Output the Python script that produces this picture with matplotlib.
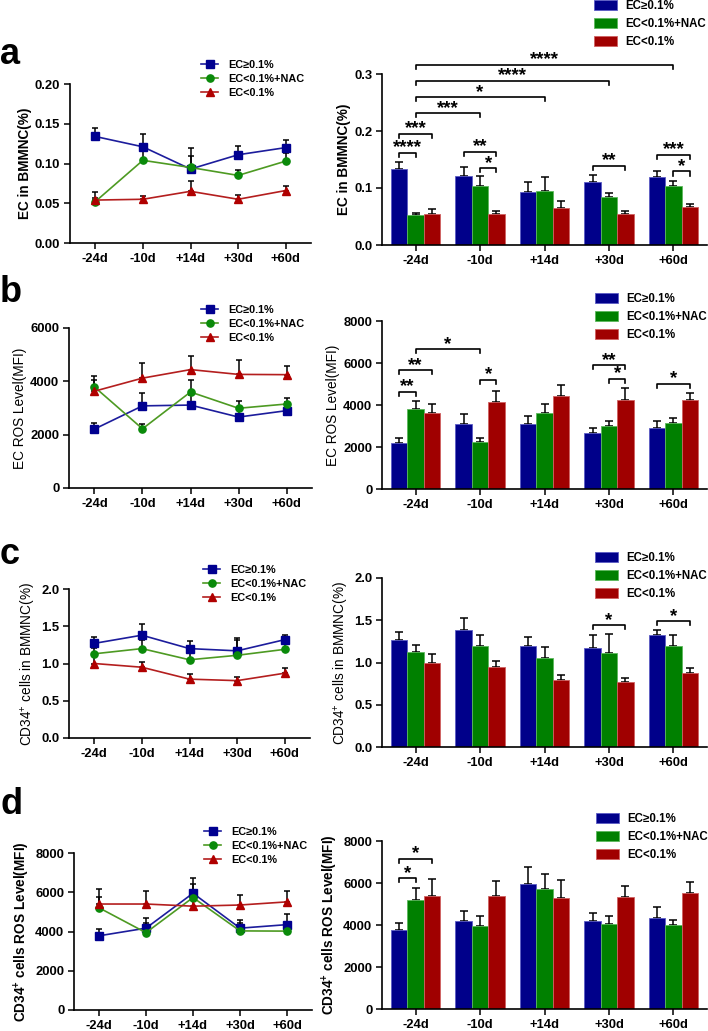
import numpy as np
import matplotlib
matplotlib.use('Agg')
import matplotlib.pyplot as plt

plt.rcParams['font.family'] = ['Liberation Sans', 'DejaVu Sans']
plt.rcParams['mathtext.fontset'] = 'custom'
plt.rcParams['mathtext.rm'] = 'Liberation Sans'
plt.rcParams['mathtext.bf'] = 'Liberation Sans:bold'
plt.rcParams['mathtext.default'] = 'regular'


days = ['-24d', '-10d', '+14d', '+30d', '+60d']
groups = ['EC≥0.1%', 'EC<0.1%+NAC', 'EC<0.1%']

# panel a: EC in BMMNC (%)
a_hi = [0.134, 0.121, 0.093, 0.111, 0.120]
a_hi_err = [0.011, 0.016, 0.017, 0.011, 0.010]
a_nac = [0.052, 0.104, 0.095, 0.085, 0.103]
a_nac_err = [0.005, 0.017, 0.024, 0.007, 0.010]
a_lo = [0.054, 0.055, 0.065, 0.055, 0.066]
a_lo_err = [0.010, 0.004, 0.013, 0.005, 0.006]

# panel b: EC ROS level (MFI)
b_hi = [2210, 3080, 3110, 2660, 2900]
b_hi_err = [230, 470, 370, 260, 340]
b_nac = [3790, 2220, 3600, 2990, 3150]
b_nac_err = [410, 190, 460, 260, 240]
b_lo = [3630, 4120, 4440, 4260, 4250]
b_lo_err = [430, 570, 510, 540, 320]

# panel c: CD34+ cells in BMMNC (%)
c_hi = [1.27, 1.38, 1.20, 1.17, 1.32]
c_hi_err = [0.09, 0.15, 0.10, 0.15, 0.065]
c_nac = [1.13, 1.20, 1.05, 1.11, 1.19]
c_nac_err = [0.075, 0.12, 0.13, 0.23, 0.13]
c_lo = [1.00, 0.95, 0.79, 0.77, 0.87]
c_lo_err = [0.10, 0.065, 0.067, 0.05, 0.07]

# panel d: CD34+ cells ROS level (MFI)
d_hi = [3780, 4170, 5950, 4170, 4350]
d_hi_err = [330, 520, 800, 410, 530]
d_nac = [5210, 3940, 5730, 4030, 4020]
d_nac_err = [570, 500, 710, 380, 220]
d_lo = [5400, 5400, 5290, 5350, 5510]
d_lo_err = [790, 680, 840, 490, 550]

# significance: (group1, series1, group2, series2, height, stars); series None = group centre
a_sig = [(0, None, 4, None, 0.316, '****'), (0, None, 3, None, 0.288, '****'),
         (0, None, 2, None, 0.259, '*'), (0, None, 1, None, 0.231, '***'),
         (0, 0, 0, 2, 0.195, '***'), (0, 0, 0, 1, 0.161, '****'),
         (1, 0, 1, 2, 0.164, '**'), (1, 1, 1, 2, 0.1345, '*'),
         (3, 0, 3, 2, 0.139, '**'),
         (4, 0, 4, 2, 0.158, '***'), (4, 1, 4, 2, 0.129, '*')]
b_sig = [(0, None, 1, None, 6650, '*'), (0, 0, 0, 2, 5650, '**'), (0, 0, 0, 1, 4630, '**'),
         (1, 1, 1, 2, 5180, '*'), (3, 0, 3, 2, 5890, '**'), (3, 1, 3, 2, 5260, '*'),
         (4, 0, 4, 2, 4990, '*')]
c_sig = [(3, 0, 3, 2, 1.44, '*'), (4, 0, 4, 2, 1.487, '*')]
d_sig = [(0, 0, 0, 2, 7130, '*'), (0, 0, 0, 1, 6220, '*')]


W, H = 708, 1031
bar_cols = ['#00008a', '#008000', '#a00000']
edge_cols = ['#5c5cc4', '#5cb85c', '#d06060']
line_cols = ['#1c1c9c', '#4d9a22', '#b41e1e']
mk_cols = ['#000090', '#0a8a0a', '#b00000']
markers = ['s', 'o', '^']
BW = 0.255


def pos(l, r, t, b):
    return [l / W, 1 - b / H, (r - l) / W, (b - t) / H]


def style(ax, ymax, step, ylabel, lab_bold):
    for s in ['top', 'right']:
        ax.spines[s].set_visible(False)
    for s in ['left', 'bottom']:
        ax.spines[s].set_linewidth(1.2)
    ax.set_ylim(0, ymax)
    ax.set_yticks(np.arange(0, ymax + step / 2, step))
    ax.set_xticks(range(5))
    ax.set_xticklabels(days)
    ax.tick_params(width=1.1, length=4, pad=3, labelsize=9.4)
    for t in ax.get_xticklabels() + ax.get_yticklabels():
        t.set_fontweight('bold')
    ax.set_ylabel(ylabel, fontsize=9.8, fontweight='bold' if lab_bold else 'normal', labelpad=2)


def line_panel(rect, data, errs, ymax, step, ylabel, lab_bold, fmt, leg_xy):
    ax = fig.add_axes(pos(*rect))
    x = np.arange(5)
    handles = []
    for i in range(3):
        ax.errorbar(x, data[i], yerr=[np.zeros(5), errs[i]], fmt='none', ecolor='k',
                    elinewidth=1.1, capsize=2.3, capthick=1.1, zorder=2)
        h, = ax.plot(x, data[i], color=line_cols[i], lw=1.2, marker=markers[i], ms=5.2,
                     mfc=mk_cols[i], mec=mk_cols[i], zorder=3)
        handles.append(h)
    ax.set_xlim(-0.53, 4.53)
    style(ax, ymax, step, ylabel, lab_bold)
    if fmt:
        ax.yaxis.set_major_formatter(matplotlib.ticker.FormatStrFormatter(fmt))
    fig.legend(handles, groups, loc='upper left', bbox_to_anchor=(leg_xy[0] / W, 1 - leg_xy[1] / H),
               frameon=False, borderpad=0, borderaxespad=0, handlelength=1.6, handletextpad=0.9,
               labelspacing=0.35, prop={'size': 7.8, 'weight': 'bold'})
    return ax


def bar_panel(rect, data, errs, ymax, step, ylabel, lab_bold, fmt, leg_xy, sig):
    ax = fig.add_axes(pos(*rect))
    x = np.arange(5)
    handles = []
    for i in range(3):
        h = ax.bar(x + (i - 1) * BW, data[i], BW, color=bar_cols[i], edgecolor=edge_cols[i],
                   linewidth=0.6, zorder=2)
        ax.errorbar(x + (i - 1) * BW, data[i], yerr=[np.zeros(5), errs[i]], fmt='none', ecolor='k',
                    elinewidth=1.1, capsize=2.6, capthick=1.1, zorder=1)
        handles.append(h)
    ax.set_xlim(-0.52, 4.52)
    style(ax, ymax, step, ylabel, lab_bold)
    if fmt:
        ax.yaxis.set_major_formatter(matplotlib.ticker.FormatStrFormatter(fmt))
    drop = ymax * 0.024
    for g1, s1, g2, s2, y, txt in sig:
        x1 = g1 + (0 if s1 is None else (s1 - 1) * BW)
        x2 = g2 + (0 if s2 is None else (s2 - 1) * BW)
        ax.plot([x1, x1, x2, x2], [y - drop, y, y, y - drop], color='k', lw=1.2,
                clip_on=False, zorder=4)
        ax.annotate(txt, ((x1 + x2) / 2, y), xytext=(0, 0.5), textcoords='offset points',
                    ha='center', va='baseline', fontsize=13.5, fontweight='bold',
                    annotation_clip=False)
    fig.legend(handles, groups, loc='upper left', bbox_to_anchor=(leg_xy[0] / W, 1 - leg_xy[1] / H),
               frameon=False, borderpad=0, borderaxespad=0, handlelength=2.0, handleheight=1.0,
               handletextpad=0.7, labelspacing=0.5, prop={'size': 8.3, 'weight': 'bold'})
    return ax


fig = plt.figure(figsize=(W / 100, H / 100), dpi=100)

lab_a = 'EC in BMMNC(%)'
lab_b = 'EC ROS Level(MFI)'
lab_c = 'CD34$^{+}$ cells in BMMNC(%)'
lab_d = 'CD34$^{+}$ cells ROS Level(MFI)'

line_panel((70, 311, 84, 243), [a_hi, a_nac, a_lo], [a_hi_err, a_nac_err, a_lo_err],
           0.2, 0.05, lab_a, True, '%.2f', (201, 60))
bar_panel((382, 707, 74, 245), [a_hi, a_nac, a_lo], [a_hi_err, a_nac_err, a_lo_err],
          0.3, 0.1, lab_a, True, '%.1f', (594, 0), a_sig)

line_panel((69, 312, 328, 488), [b_hi, b_nac, b_lo], [b_hi_err, b_nac_err, b_lo_err],
           6000, 2000, lab_b, False, None, (201, 305))
bar_panel((382, 707, 321, 489), [b_hi, b_nac, b_lo], [b_hi_err, b_nac_err, b_lo_err],
          8000, 2000, lab_b, False, None, (595, 293), b_sig)

line_panel((69, 310, 589, 738), [c_hi, c_nac, c_lo], [c_hi_err, c_nac_err, c_lo_err],
           2.0, 0.5, lab_c, False, '%.1f', (203, 565))
bar_panel((382, 707, 578, 747), [c_hi, c_nac, c_lo], [c_hi_err, c_nac_err, c_lo_err],
          2.0, 0.5, lab_c, False, '%.1f', (595, 552), c_sig)

line_panel((74, 312, 853, 1010), [d_hi, d_nac, d_lo], [d_hi_err, d_nac_err, d_lo_err],
           8000, 2000, lab_d, True, None, (204, 827))
bar_panel((382, 707, 841, 1009), [d_hi, d_nac, d_lo], [d_hi_err, d_nac_err, d_lo_err],
          8000, 2000, lab_d, True, None, (596, 813), d_sig)

for lab, y in zip('abcd', [55, 293, 555, 805]):
    fig.text(0.0, 1 - y / H, lab, fontsize=26, fontweight='bold', va='center', ha='left')

fig.savefig('out.png', dpi=100)
